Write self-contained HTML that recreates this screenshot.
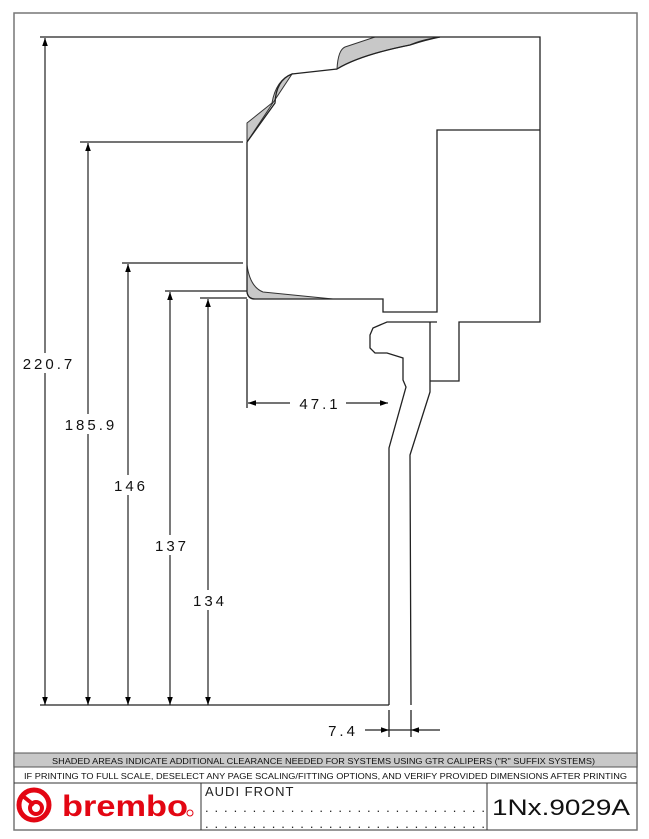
<!DOCTYPE html>
<html><head><meta charset="utf-8"><style>
html,body{margin:0;padding:0;background:#fff;}
svg{display:block;}
text{font-family:"Liberation Sans",sans-serif;}
</style></head><body>
<svg width="649" height="839" viewBox="0 0 649 839" xmlns="http://www.w3.org/2000/svg">
<defs>
<marker id="a" viewBox="0 0 10 10" refX="10" refY="5" markerWidth="8" markerHeight="8" orient="auto-start-reverse" markerUnits="userSpaceOnUse"><path d="M0,1.5 L10,5 L0,8.5 z" fill="#000"/></marker>
</defs>
<rect x="14" y="13" width="623" height="817" fill="none" stroke="#777" stroke-width="1.5"/>

<!-- shaded areas -->
<path d="M247,123 L272,103 Q276,80 292,74 L247,142 Z" fill="#c8c8c8" stroke="#333" stroke-width="1"/>
<path d="M337,69 Q338,50 345,47 L375,37 L440,37 Q420,40 410,45 Q360,55 337,69 Z" fill="#c8c8c8" stroke="#333" stroke-width="1"/>
<path d="M247,265 L247,292 Q248,299 255,299 L333,299 L263,292 Q250,287 247,265 Z" fill="#c8c8c8" stroke="#333" stroke-width="1"/>

<g fill="none" stroke="#222" stroke-width="1.3">
<path d="M247,142 L247,292 Q248,299 255,299 L383,299 L383,312 L437,312 L437,130 L540,130"/>
<path d="M247,142 L275,103 Q276,80 292,74 L337,69 Q360,55 410,45 Q425,40 440,37"/>
<path d="M40,37 L540,37 L540,322 L459,322 L459,381 L430,381"/>
<path d="M430,322 L430,392 L410,455 L411,705"/>
<path d="M437,322 L387,322 L373,328 L370,335 L370,348 L375,353 L387,353 L403,358 L403,380 L406,387 L389,448 L389,705"/>
<path d="M80,142 L243,142 M122,263 L243,263 M165,291 L247,291 M200,298 L247,298 M40,705 L389,705 M247,299 L247,408 M389,710 L389,737 M411,710 L411,737"/>
</g>
<g stroke="#222" stroke-width="1.2" fill="none">
<line x1="45" y1="705" x2="45" y2="38" marker-start="url(#a)" marker-end="url(#a)"/>
<line x1="88" y1="705" x2="88" y2="143" marker-start="url(#a)" marker-end="url(#a)"/>
<line x1="128" y1="705" x2="128" y2="264" marker-start="url(#a)" marker-end="url(#a)"/>
<line x1="170" y1="705" x2="170" y2="292" marker-start="url(#a)" marker-end="url(#a)"/>
<line x1="208" y1="705" x2="208" y2="299" marker-start="url(#a)" marker-end="url(#a)"/>
<line x1="248" y1="403" x2="388" y2="403" marker-start="url(#a)" marker-end="url(#a)"/>
<line x1="365" y1="730" x2="389" y2="730" marker-end="url(#a)"/>
<line x1="440" y1="730" x2="411" y2="730" marker-end="url(#a)"/>
<line x1="389" y1="730" x2="411" y2="730"/>
</g>
<g font-size="15" fill="#111" letter-spacing="3" text-anchor="middle">
<rect x="17" y="353" width="62" height="20" fill="#fff"/><text x="49" y="369">220.7</text>
<rect x="59" y="414" width="62" height="20" fill="#fff"/><text x="91" y="430">185.9</text>
<rect x="110" y="475" width="38" height="20" fill="#fff"/><text x="131" y="491">146</text>
<rect x="152" y="535" width="38" height="20" fill="#fff"/><text x="172" y="551">137</text>
<rect x="190" y="590" width="38" height="20" fill="#fff"/><text x="210" y="606">134</text>
<rect x="290" y="393" width="56" height="20" fill="#fff"/><text x="320" y="409">47.1</text>
<text x="343" y="736">7.4</text>
</g>

<rect x="14" y="753" width="623" height="14" fill="#c8c8c8" stroke="#555" stroke-width="1"/>
<line x1="14" y1="783" x2="637" y2="783" stroke="#333"/>
<line x1="201" y1="783" x2="201" y2="830" stroke="#333"/>
<line x1="487" y1="783" x2="487" y2="830" stroke="#333"/>
<text x="52" y="764" font-size="8" fill="#111" textLength="543" lengthAdjust="spacingAndGlyphs">SHADED AREAS INDICATE ADDITIONAL CLEARANCE NEEDED FOR SYSTEMS USING GTR CALIPERS ("R" SUFFIX SYSTEMS)</text>
<text x="24" y="779" font-size="8.6" fill="#111" textLength="603" lengthAdjust="spacingAndGlyphs">IF PRINTING TO FULL SCALE, DESELECT ANY PAGE SCALING/FITTING OPTIONS, AND VERIFY PROVIDED DIMENSIONS AFTER PRINTING</text>
<text x="205" y="796" font-size="13" fill="#222" letter-spacing="1">AUDI FRONT</text>
<text x="205" y="812" font-size="13" fill="#222" textLength="280" lengthAdjust="spacing">..............................</text>
<text x="205" y="828" font-size="13" fill="#222" textLength="280" lengthAdjust="spacing">..............................</text>
<text x="492" y="815" font-size="22" fill="#111" textLength="138" lengthAdjust="spacingAndGlyphs">1Nx.9029A</text>
<circle cx="34" cy="805" r="15" fill="none" stroke="#e30613" stroke-width="5"/>
<circle cx="36" cy="808" r="6" fill="none" stroke="#e30613" stroke-width="4"/>
<line x1="24" y1="797" x2="34" y2="805" stroke="#e30613" stroke-width="4"/>
<text x="62" y="816" font-size="30" font-weight="bold" fill="#e30613" textLength="126" lengthAdjust="spacingAndGlyphs">brembo</text>
<circle cx="190" cy="813" r="3" fill="none" stroke="#e30613" stroke-width="1"/>
</svg>
</body></html>
